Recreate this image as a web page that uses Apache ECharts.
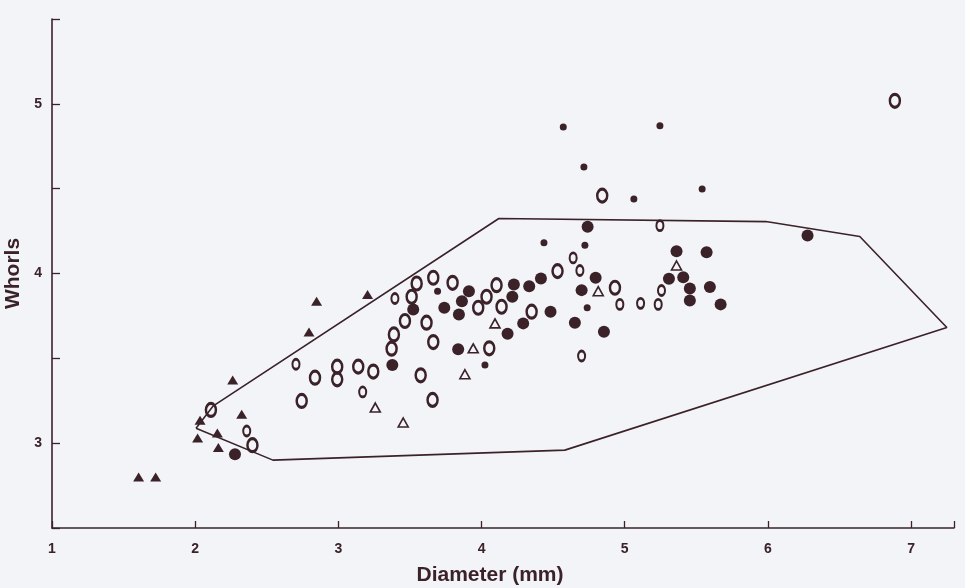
<!DOCTYPE html>
<html>
<head>
<meta charset="utf-8">
<title>Whorls vs Diameter</title>
<script src="https://cdn.jsdelivr.net/npm/echarts@6/dist/echarts.min.js"></script>
<style>
  html, body { margin: 0; padding: 0; background: #f2f4f7; }
  #chart { width: 965px; height: 588px; }
</style>
</head>
<body>
<div id="chart"></div>
<script>
  'use strict'
  /*----- data: [diameter mm, whorls] -----*/
  var filledTriangles = [
    [1.605, 2.80], [1.724, 2.80], [2.017, 3.03], [2.034, 3.135], [2.155, 3.06],
    [2.162, 2.975], [2.262, 3.372], [2.325, 3.17], [2.795, 3.655], [2.848, 3.837],
    [3.204, 3.876]
  ];
  var openTriangles = [
    [3.258, 3.21], [3.453, 3.122], [3.884, 3.406], [3.942, 3.559], [4.094, 3.706],
    [4.815, 3.896], [5.362, 4.047]
  ];
  var bigDots = [
    [2.278, 2.935], [3.377, 3.461], [3.523, 3.788], [3.74, 3.798], [3.863, 3.837],
    [3.842, 3.759], [3.837, 3.553], [3.912, 3.896], [4.182, 3.645], [4.215, 3.863],
    [4.226, 3.935], [4.291, 3.706], [4.333, 3.925], [4.415, 3.971], [4.482, 3.775],
    [4.652, 3.71], [4.699, 3.902], [4.741, 4.275], [4.797, 3.975], [4.855, 3.657],
    [5.309, 3.969], [5.362, 4.131], [5.409, 3.978], [5.455, 3.912], [5.455, 3.841],
    [5.572, 4.125], [5.595, 3.92], [5.67, 3.818], [6.277, 4.224]
  ];
  var smallDots = [
    [3.693, 3.896], [4.024, 3.461], [4.436, 4.181], [4.571, 4.863], [4.715, 4.628],
    [4.722, 4.167], [4.738, 3.798], [5.064, 4.439], [5.246, 4.871], [5.541, 4.498]
  ];
  var bigRings = [
    [2.11, 3.196], [2.40, 2.988], [2.744, 3.249], [2.837, 3.386], [2.992, 3.451],
    [2.992, 3.376], [3.139, 3.451], [3.244, 3.422], [3.372, 3.557], [3.388, 3.641],
    [3.465, 3.72], [3.512, 3.863], [3.547, 3.941], [3.575, 3.40], [3.616, 3.71],
    [3.658, 3.255], [3.663, 3.596], [3.663, 3.975], [3.798, 3.945], [3.977, 3.798],
    [4.035, 3.863], [4.054, 3.559], [4.105, 3.931], [4.14, 3.804], [4.35, 3.775],
    [4.531, 4.014], [4.843, 4.459], [4.932, 3.916], [6.887, 5.018]
  ];
  var smallRings = [
    [2.36, 3.072], [2.704, 3.465], [3.17, 3.302], [3.395, 3.853], [4.64, 4.092],
    [4.687, 4.018], [4.699, 3.514], [4.966, 3.818], [5.111, 3.824], [5.234, 3.818],
    [5.246, 4.282], [5.257, 3.90]
  ];
  // outline drawn round the points
  var outline = [
    [2.006, 3.088], [2.124, 3.218], [4.121, 4.324], [5.986, 4.306], [6.642, 4.218],
    [7.25, 3.682], [4.582, 2.959], [2.543, 2.90], [2.006, 3.088]
  ];
  var xTicks = [1, 2, 3, 4, 5, 6, 7];
  var yTicks = [3, 4, 5];

  var ink = '#3b2229';
  var ring = 'path://M5,0 A5,5 0 1 1 5,10 A5,5 0 1 1 5,0 Z';

  var chart = document.getElementById('chart');
  var plot = echarts.init(chart);

  var option = {
    backgroundColor: '#f2f4f7',
    animation: false,
    grid: {
      top: 19,
      right: 11,
      bottom: 60,
      left: 52,
      outerBoundsMode: 'none'
    },
    xAxis: {
      type: 'value',
      min: 1,
      max: 7.3,
      interval: 1,
      name: 'Diameter (mm)',
      nameLocation: 'middle',
      nameGap: 37,
      nameTextStyle: {
        fontFamily: 'Liberation Sans', fontWeight: 'bold', fontSize: 21, color: ink,
        padding: [0, 26, 0, 0]
      },
      axisLine: { onZero: false, lineStyle: { color: ink, width: 1.6 } },
      axisTick: { inside: true, length: 7, lineStyle: { color: ink, width: 1.3 } },
      splitLine: { show: false },
      axisLabel: {
        margin: 14,
        fontFamily: 'Liberation Sans',
        fontWeight: 'bold',
        fontSize: 14,
        color: ink,
        formatter: function (v) { return xTicks.indexOf(v) > -1 ? v : ''; }
      }
    },
    yAxis: {
      type: 'value',
      min: 2.5,
      max: 5.5,
      interval: 0.5,
      name: 'Whorls',
      nameLocation: 'middle',
      nameGap: 25,
      nameTextStyle: { fontFamily: 'Liberation Sans', fontWeight: 'bold', fontSize: 21, color: ink },
      axisLine: { onZero: false, lineStyle: { color: ink, width: 1.6 } },
      axisTick: { inside: true, length: 8, lineStyle: { color: ink, width: 1.3 } },
      splitLine: { show: false },
      axisLabel: {
        margin: 10,
        fontFamily: 'Liberation Sans',
        fontWeight: 'bold',
        fontSize: 14,
        color: ink,
        formatter: function (v) { return yTicks.indexOf(v) > -1 ? v : ''; }
      }
    },
    series: [
      {
        name: 'outline',
        type: 'line',
        data: outline,
        symbol: 'none',
        lineStyle: { color: ink, width: 1.6 },
        z: 1
      },
      {
        name: 'filled triangle',
        type: 'scatter',
        data: filledTriangles,
        symbol: 'triangle',
        symbolSize: [11, 9],
        itemStyle: { color: ink, opacity: 1 }
      },
      {
        name: 'open triangle',
        type: 'scatter',
        data: openTriangles,
        symbol: 'triangle',
        symbolSize: [10, 9],
        itemStyle: { color: 'transparent', borderColor: ink, borderWidth: 1.6, opacity: 1 }
      },
      {
        name: 'large dot',
        type: 'scatter',
        data: bigDots,
        symbol: 'circle',
        symbolSize: 12,
        itemStyle: { color: ink, opacity: 1 }
      },
      {
        name: 'small dot',
        type: 'scatter',
        data: smallDots,
        symbol: 'circle',
        symbolSize: 7,
        itemStyle: { color: ink, opacity: 1 }
      },
      {
        name: 'large ring',
        type: 'scatter',
        data: bigRings,
        symbol: ring,
        symbolSize: [10, 13],
        itemStyle: { color: 'transparent', borderColor: ink, borderWidth: 2.8, opacity: 1 }
      },
      {
        name: 'small ring',
        type: 'scatter',
        data: smallRings,
        symbol: ring,
        symbolSize: [7, 10],
        itemStyle: { color: 'transparent', borderColor: ink, borderWidth: 2.4, opacity: 1 }
      }
    ]
  };

  plot.setOption(option);
</script>
</body>
</html>
